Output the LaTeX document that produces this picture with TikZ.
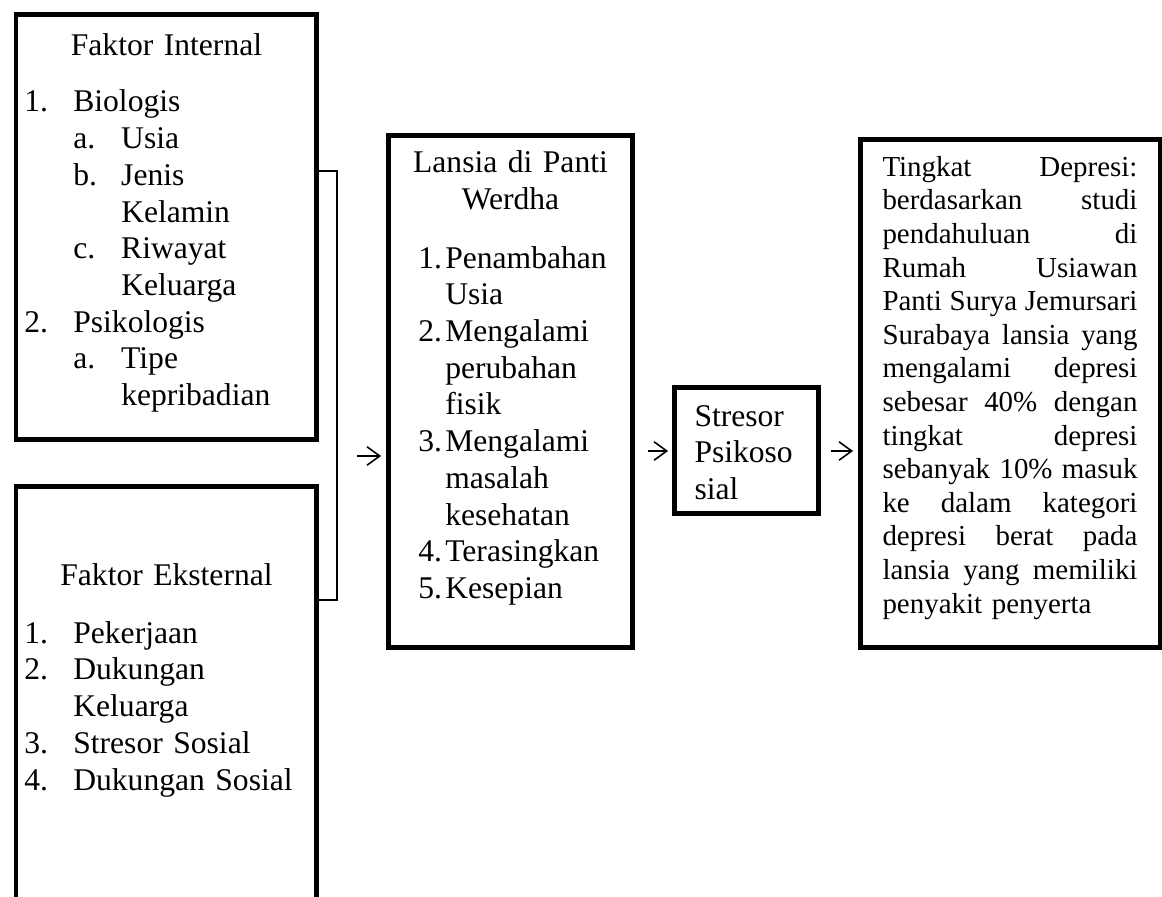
\documentclass[tikz,border=0pt]{standalone}
\usepackage{fontspec}
\setmainfont{Liberation Serif}
\usetikzlibrary{positioning,arrows.meta}
\tikzset{c-box/.style={rectangle, draw=black, line width=1.9pt, inner sep=0pt, anchor=north west, font=\fontsize{12}{13.95}\selectfont},
c-note/.style={c-box, inner xsep=8.55pt, font=\fontsize{11}{12.77}\selectfont},
bracket/.style={line width=0.5pt},
arrow/.style={line width=0.6pt,->,>={Straight Barb[length=4.8pt,width=7pt]}}}
\newcommand{\itemA}[1]{\hspace*{3.2pt}\makebox[18.6pt][l]{#1}}
\newcommand{\itemB}[1]{\hspace*{21.8pt}\makebox[18.2pt][l]{#1}}
\newcommand{\itemL}[1]{\hspace*{11.5pt}\makebox[10.3pt][l]{#1}}
\newcommand{\indA}{\hspace*{21.8pt}}
\newcommand{\indB}{\hspace*{40pt}}
\newcommand{\jline}[1]{{\spaceskip=0.25em plus 1fil\makebox[\linewidth][s]{#1}}}

\begin{document}
\begin{tikzpicture}[x=0.38pt, y=-0.38pt]
\useasboundingbox (0,0) rectangle (1162,897);
\clip (0,0) rectangle (1162,897);
% faktor internal / eksternal
\node (intern) [c-box, text width=114.38pt, text height=15.39pt, text depth=146.11pt] at (13.5,12.5) {
\makebox[\linewidth]{Faktor Internal}\\[7.5pt]
\itemA{1.}Biologis\\
\itemB{a.}Usia\\
\itemB{b.}Jenis\\
\indB Kelamin\\
\itemB{c.}Riwayat\\
\indB Keluarga\\
\itemA{2.}Psikologis\\
\itemB{a.}Tipe\\
\indB kepribadian
};
\node (extern) [c-box, below=15.96pt of intern.south west, anchor=north west, text width=114.38pt, text height=37.4pt, text depth=133.8pt] {
\makebox[\linewidth]{Faktor Eksternal}\\[8pt]
\itemA{1.}Pekerjaan\\
\itemA{2.}Dukungan\\
\indA Keluarga\\
\itemA{3.}Stresor Sosial\\
\itemA{4.}Dukungan Sosial
};
% lansia
\node (lansia) [c-box, text width=93.1pt, text height=14pt, text depth=180.75pt] at (385.5,133) {
\makebox[\linewidth]{Lansia di Panti}\\
\makebox[\linewidth]{Werdha}\\[8.5pt]
\itemL{1.}Penambahan\\
\indA Usia\\
\itemL{2.}Mengalami\\
\indA perubahan\\
\indA fisik\\
\itemL{3.}Mengalami\\
\indA masalah\\
\indA kesehatan\\
\itemL{4.}Terasingkan\\
\itemL{5.}Kesepian
};
\node (stresor) [c-box, text width=54.53pt, text height=14.5pt, text depth=33.38pt] at (672,385.5) {
\hspace*{7.6pt}Stresor\\
\hspace*{7.6pt}Psikoso\\
\hspace*{7.6pt}sial
};
% tingkat depresi
\node (depresi) [c-note, text width=96.9pt, text height=13.8pt, text depth=179.24pt] at (857.5,137.5) {
\jline{Tingkat Depresi:}\\
\jline{berdasarkan studi}\\
\jline{pendahuluan di}\\
\jline{Rumah Usiawan}\\
\jline{Panti Surya Jemursari}\\
\jline{Surabaya lansia yang}\\
\jline{mengalami depresi}\\
\jline{sebesar 40\% dengan}\\
\jline{tingkat depresi}\\
\jline{sebanyak 10\% masuk}\\
\jline{ke dalam kategori}\\
\jline{depresi berat pada}\\
\jline{lansia yang memiliki}\\
penyakit penyerta
};
\coordinate (brtop) at (337,171);
\coordinate (brbot) at (337,600);
\coordinate (arrtail) at (357,456);
\draw [bracket] (intern.east |- brtop) -- (brtop) -- (brbot) -- (extern.east |- brbot);
\draw [arrow, shorten >=1.7pt] (arrtail) -- (arrtail -| lansia.west);
\draw [arrow, shorten <=4.7pt, shorten >=1.5pt] (lansia.east |- stresor.west) -- (stresor.west);
\draw [arrow, shorten <=4pt, shorten >=1.7pt] (stresor.east) -- (stresor.east -| depresi.west);
\end{tikzpicture}
\end{document}
